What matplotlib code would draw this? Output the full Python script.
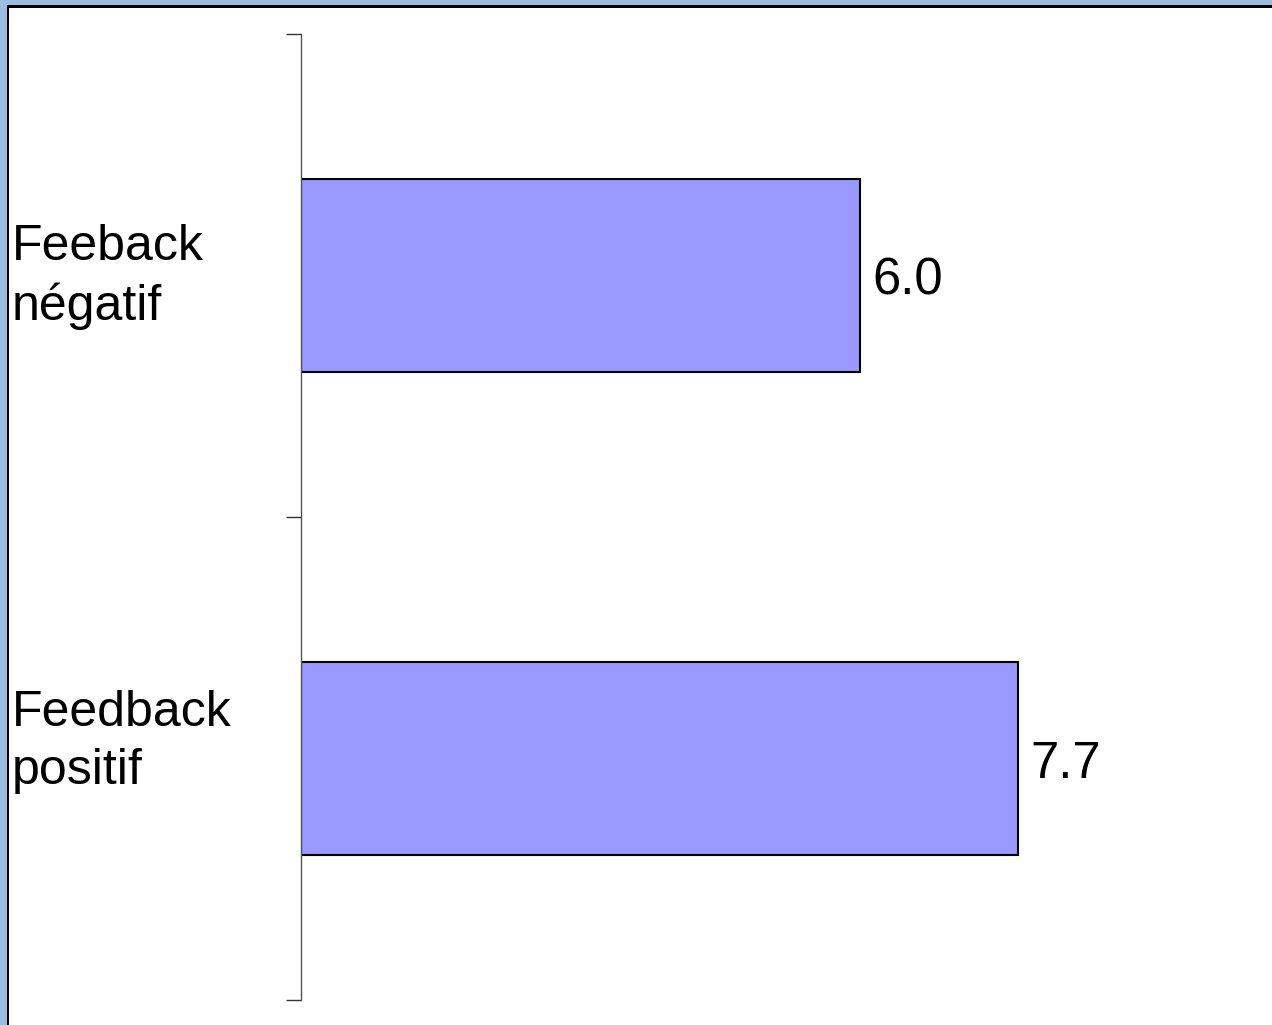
import matplotlib.pyplot as plt
import matplotlib.transforms as mtransforms
from matplotlib.patches import Rectangle

plt.rcParams['font.family'] = ['Liberation Sans', 'DejaVu Sans']

categories = ['Feedback\npositif', 'Feeback\nnégatif']
scores = [7.7, 6.0]
value_labels = ['7.7', '6.0']

W, H = 1272, 1025
fig = plt.figure(figsize=(W / 100, H / 100), dpi=100)
fig.patch.set_facecolor('white')

# blue frame with a dark inner edge along the top and left
fig.patches.append(Rectangle((0, 0), 1, 1, transform=fig.transFigure,
                             facecolor='#9bbde0', edgecolor='none', zorder=-3))
fig.patches.append(Rectangle((7 / W, 0), 1, 1 - 5 / H, transform=fig.transFigure,
                             facecolor='black', edgecolor='none', zorder=-2))
fig.patches.append(Rectangle((9 / W, 0), 1, 1 - 8 / H, transform=fig.transFigure,
                             facecolor='white', edgecolor='none', zorder=-1))

ax = fig.add_axes([301 / W, 1 - 1000 / H, 1 - 301 / W, (1000 - 34) / H])
ax.set_facecolor('none')

y = list(range(len(categories)))
bars = ax.barh(y, scores, height=0.4, color='#9999ff', edgecolor='black', linewidth=1.5)

ax.set_xlim(0, (W - 301) / 93.1)
ax.set_ylim(-0.5, len(categories) - 0.5)

for b, txt in zip(bars, value_labels):
    ax.annotate(txt, (b.get_width(), b.get_y() + b.get_height() / 2),
                xytext=(9, -4), textcoords='offset points',
                ha='left', va='center', fontsize=36.5)

# category names sit at the left edge of the figure
trans = mtransforms.blended_transform_factory(fig.transFigure, ax.transData)
name_dy = [12, -1]
for yi, name, dy in zip(y, categories, name_dy):
    ax.annotate(name, (12 / W, yi), xycoords=trans,
                xytext=(0, dy), textcoords='offset points',
                ha='left', va='center', fontsize=36, linespacing=1.32)

for s in ['top', 'right', 'bottom']:
    ax.spines[s].set_visible(False)
ax.spines['left'].set_color('#555555')
ax.spines['left'].set_linewidth(1)
ax.set_xticks([])
ax.set_yticks([v - 0.5 for v in range(len(categories) + 1)])
ax.set_yticklabels([])
ax.tick_params(axis='y', length=11, width=1, color='#333333', direction='out')

fig.savefig('out.png', dpi=100, facecolor=fig.get_facecolor())
